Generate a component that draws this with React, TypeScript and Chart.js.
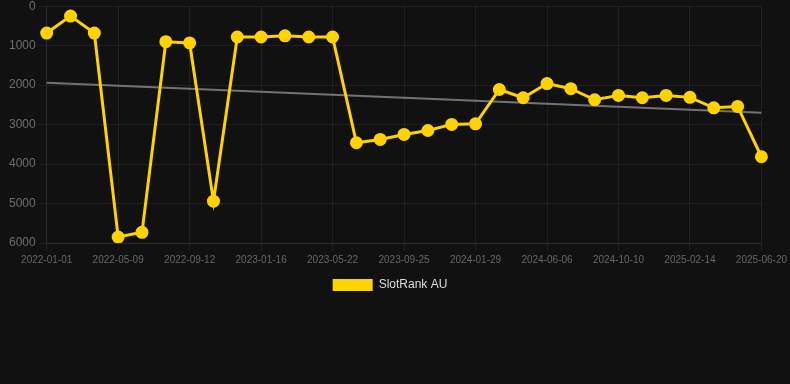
import React, { useEffect, useRef } from "react";
import { Chart, registerables } from "chart.js";

Chart.register(...registerables);

const dates: string[] = [
  "2022-01-01", "2022-02-12", "2022-03-26", "2022-05-09", "2022-06-20", "2022-08-01",
  "2022-09-12", "2022-10-24", "2022-12-05", "2023-01-16", "2023-02-27", "2023-04-10",
  "2023-05-22", "2023-07-03", "2023-08-14", "2023-09-25", "2023-11-06", "2023-12-18",
  "2024-01-29", "2024-03-11", "2024-04-24", "2024-06-06", "2024-07-18", "2024-08-29",
  "2024-10-10", "2024-11-21", "2025-01-02", "2025-02-14", "2025-03-28", "2025-05-09",
  "2025-06-20",
];

const rankValues: number[] = [
  680, 250, 680, 5850, 5730, 900, 930, 4940, 780, 780, 750, 780,
  780, 3460, 3375, 3250, 3150, 2995, 2980, 2110, 2320, 1960, 2090, 2370,
  2260, 2320, 2260, 2310, 2575, 2540, 3815,
];

const trendStart = 1940;
const trendEnd = 2700;

const yTicks: number[] = [0, 1000, 2000, 3000, 4000, 5000, 6000];

const YELLOW = "#FFD200";

export default function App() {
  const ref = useRef<HTMLCanvasElement | null>(null);

  useEffect(() => {
    document.body.style.margin = "0";
    document.body.style.background = "#111111";
    if (!ref.current) return;
    const chart = new Chart(ref.current, {
      type: "line",
      data: {
        labels: dates,
        datasets: [
          {
            label: "SlotRank AU",
            data: rankValues,
            borderColor: YELLOW,
            backgroundColor: YELLOW,
            pointBackgroundColor: YELLOW,
            pointBorderColor: YELLOW,
            borderWidth: 3,
            pointRadius: 5,
            tension: 0,
            order: 0,
          },
          {
            label: "Trend",
            data: [
              { x: dates[0], y: trendStart },
              { x: dates[dates.length - 1], y: trendEnd },
            ] as any,
            borderColor: "rgba(140,140,140,0.8)",
            backgroundColor: "rgba(140,140,140,0.8)",
            borderWidth: 2,
            pointRadius: 0,
            order: 1,
          },
        ],
      },
      options: {
        animation: false,
        responsive: false,
        layout: { padding: { left: 6, right: 16, top: 0, bottom: 0 } },
        scales: {
          x: {
            grid: { color: "rgba(255,255,255,0.06)" },
            border: { color: "rgba(255,255,255,0.06)" },
            ticks: {
              color: "#666",
              font: { size: 10 },
              autoSkip: false,
              maxRotation: 0,
              callback: (_v: any, i: number) => (i % 3 === 0 ? dates[i] : null),
            },
          },
          y: {
            reverse: true,
            min: yTicks[0],
            max: yTicks[yTicks.length - 1],
            grid: { color: "rgba(255,255,255,0.06)" },
            border: { color: "rgba(255,255,255,0.06)" },
            ticks: {
              color: "#6e6e6e",
              font: { size: 12 },
              stepSize: 1000,
              callback: (v: any) => String(v),
            },
          },
        },
        plugins: {
          legend: {
            position: "bottom",
            labels: {
              color: "#ddd",
              font: { size: 12 },
              boxWidth: 40,
              boxHeight: 12,
              generateLabels: () => [
                {
                  text: "SlotRank AU",
                  fillStyle: YELLOW,
                  strokeStyle: YELLOW,
                  lineWidth: 0,
                  hidden: false,
                  datasetIndex: 0,
                  fontColor: "#ddd",
                } as any,
              ],
            },
          },
          tooltip: { enabled: false },
        },
      },
    });
    return () => chart.destroy();
  }, []);

  return (
    <div style={{ width: 790, height: 384, background: "#111111", overflow: "hidden" }}>
      <canvas
        ref={ref}
        width={790}
        height={305}
        style={{ display: "block", marginTop: -4 }}
      />
    </div>
  );
}
